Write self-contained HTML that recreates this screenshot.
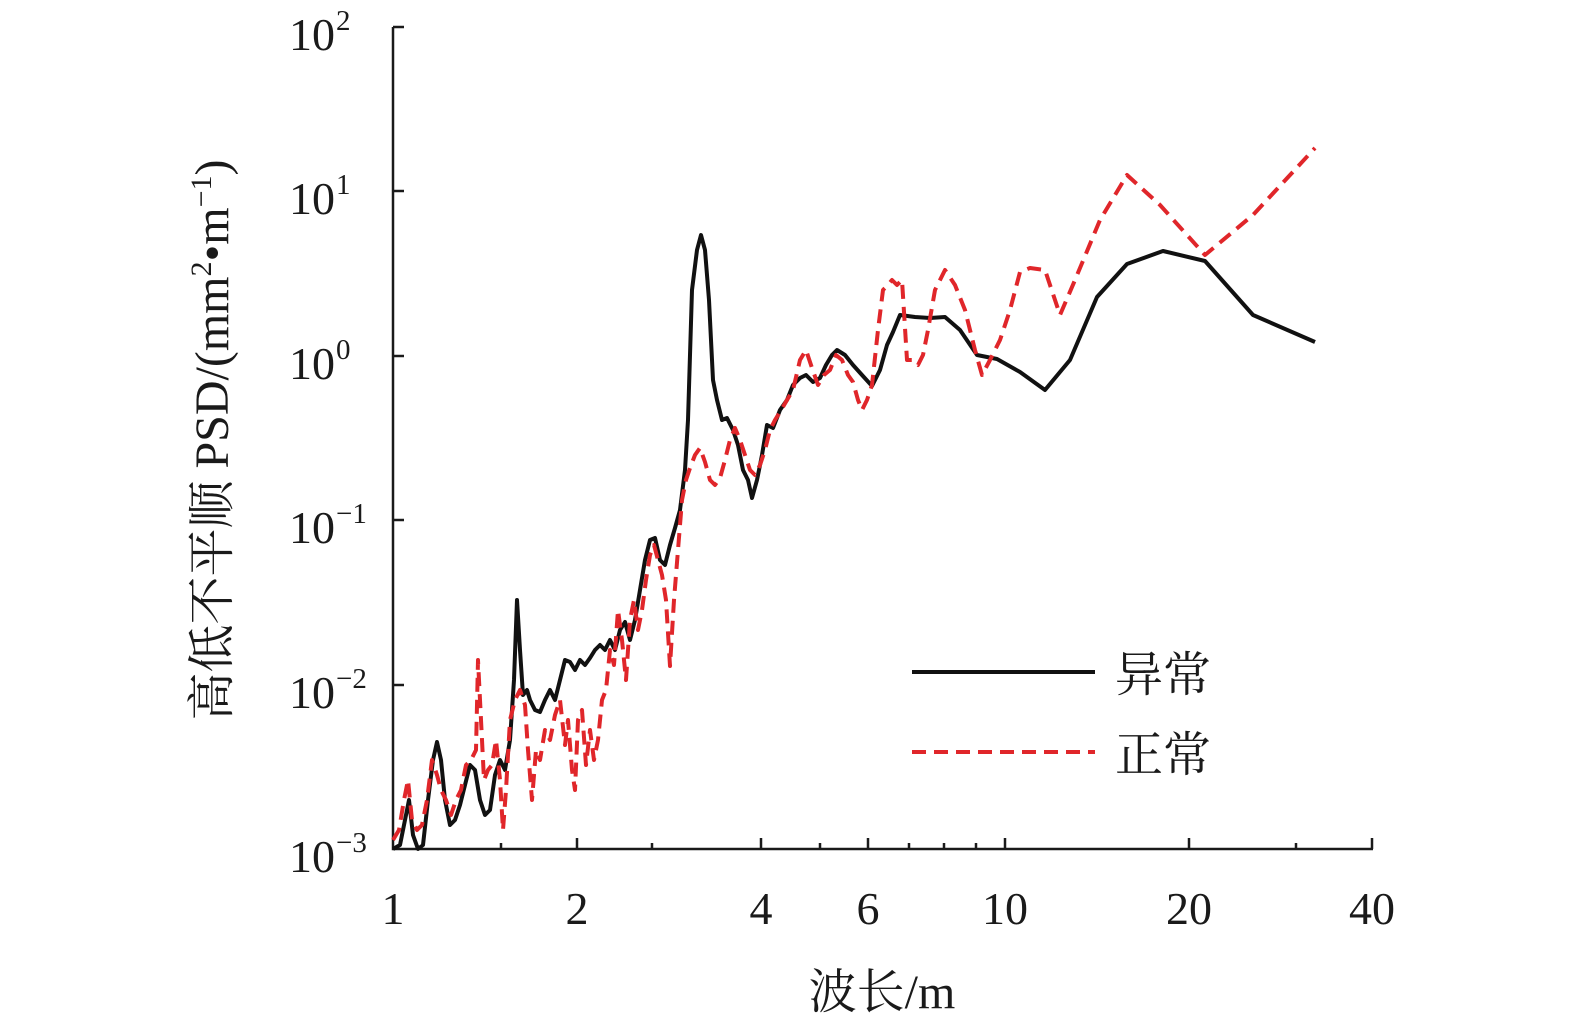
<!DOCTYPE html>
<html><head><meta charset="utf-8"><style>
body{margin:0;background:#fff}
svg text{font-family:"Liberation Serif","Noto Serif CJK SC",serif;fill:#1a1a1a}
</style></head><body>
<svg width="1575" height="1031" viewBox="0 0 1575 1031" xmlns="http://www.w3.org/2000/svg">
<g stroke="#1a1a1a" stroke-width="2.5" fill="none">
<path d="M393,27 V849 H1373"/>
<path d="M393,27 H404 M393,191 H404 M393,356 H404 M393,520 H404 M393,685 H404"/>
<path d="M577,849 V838 M761,849 V838 M868,849 V838 M1005,849 V838 M1189,849 V838 M1372,849 V838"/>
<path d="M501,849 V843 M652,849 V843 M820,849 V843 M909,849 V843 M944,849 V843 M976,849 V843 M1296,849 V843"/>
</g>
<g font-size="46" text-anchor="middle">
<text x="393" y="924">1</text><text x="577" y="924">2</text><text x="761" y="924">4</text>
<text x="868" y="924">6</text><text x="1005" y="924">10</text><text x="1189" y="924">20</text><text x="1372" y="924">40</text>
</g>
<g font-size="46" text-anchor="end">
<text x="335" y="50">10</text><text x="335" y="214">10</text><text x="335" y="379">10</text>
<text x="335" y="543">10</text><text x="335" y="708">10</text><text x="335" y="872">10</text>
</g>
<g font-size="29">
<text x="336" y="30">2</text><text x="336" y="194">1</text><text x="336" y="359">0</text>
<text x="336" y="523">−1</text><text x="336" y="688">−2</text><text x="336" y="852">−3</text>
</g>
<text x="882" y="1008" font-size="48" text-anchor="middle">波长/m</text>
<text transform="translate(228,440) rotate(-90)" font-size="48" text-anchor="middle">高低不平顺 PSD/(mm<tspan font-size="30" dy="-17">2</tspan><tspan dy="17">•m</tspan><tspan font-size="30" dy="-17">−1</tspan><tspan dy="17">)</tspan></text>
<polyline fill="none" stroke="#111" stroke-width="4" stroke-linejoin="round" points="393,849 400,845 405,820 409,800 413,835 418,849 423,845 428,800 433,760 437,742 441,760 445,800 450,825 455,820 460,805 465,785 470,765 475,770 480,800 485,815 490,810 495,775 500,760 505,770 510,740 514,680 517,600 520,650 523,695 527,690 530,700 535,710 540,712 545,700 550,690 555,700 560,680 565,660 570,662 575,670 580,660 585,665 590,658 595,650 600,645 605,650 610,640 615,650 620,630 625,622 630,640 635,620 640,590 645,560 650,540 655,538 660,560 665,565 670,545 675,528 680,510 685,470 688,420 692,290 697,250 701,235 705,250 709,300 713,380 717,400 722,420 727,418 733,430 738,445 743,470 748,480 752,498 757,480 762,455 767,425 773,428 780,410 787,400 793,385 800,378 806,375 813,382 820,378 826,365 832,355 837,350 845,355 853,365 862,375 872,386 880,370 887,345 893,332 900,315 915,317 930,318 945,317 960,330 977,355 997,359 1020,372 1045,390 1070,360 1097,297 1127,264 1163,251 1205,261 1253,315 1315,342"/>
<polyline fill="none" stroke="#e0262a" stroke-width="4" stroke-dasharray="14,8" stroke-linejoin="round" points="393,840 399,830 404,800 408,780 412,820 417,830 422,825 427,800 432,760 437,775 441,790 446,800 451,815 456,800 461,790 466,765 471,760 476,750 478,660 481,720 484,780 488,770 492,765 496,740 500,780 503,830 506,790 510,720 515,700 520,690 525,705 528,750 532,800 536,750 540,760 545,730 550,740 555,715 560,700 565,745 568,720 572,770 575,790 578,720 582,710 586,765 590,730 594,760 598,740 602,700 606,690 610,650 614,665 618,610 622,640 626,680 630,620 634,600 638,630 642,610 646,580 650,555 654,545 658,560 662,575 666,600 670,666 674,600 678,550 682,500 686,480 690,468 695,455 700,448 705,462 710,480 715,485 720,478 725,460 730,440 735,428 740,440 745,455 750,470 755,475 760,465 765,450 770,430 775,420 780,412 787,400 793,390 800,360 806,350 812,368 818,385 824,375 830,370 836,355 842,360 848,375 853,382 858,400 862,410 867,400 872,385 878,330 883,290 888,285 892,280 897,285 902,280 907,360 912,360 918,365 923,355 928,330 935,290 945,270 955,285 965,310 975,350 982,375 990,360 1000,340 1010,310 1020,272 1030,268 1045,270 1060,315 1075,280 1100,220 1127,175 1160,205 1205,255 1253,215 1315,148"/>
<line x1="912" y1="672" x2="1095" y2="672" stroke="#111" stroke-width="4"/>
<line x1="912" y1="752" x2="1095" y2="752" stroke="#e0262a" stroke-width="4" stroke-dasharray="14,8"/>
<text x="1115" y="691" font-size="48">异常</text>
<text x="1115" y="771" font-size="48">正常</text>
</svg>
</body></html>
